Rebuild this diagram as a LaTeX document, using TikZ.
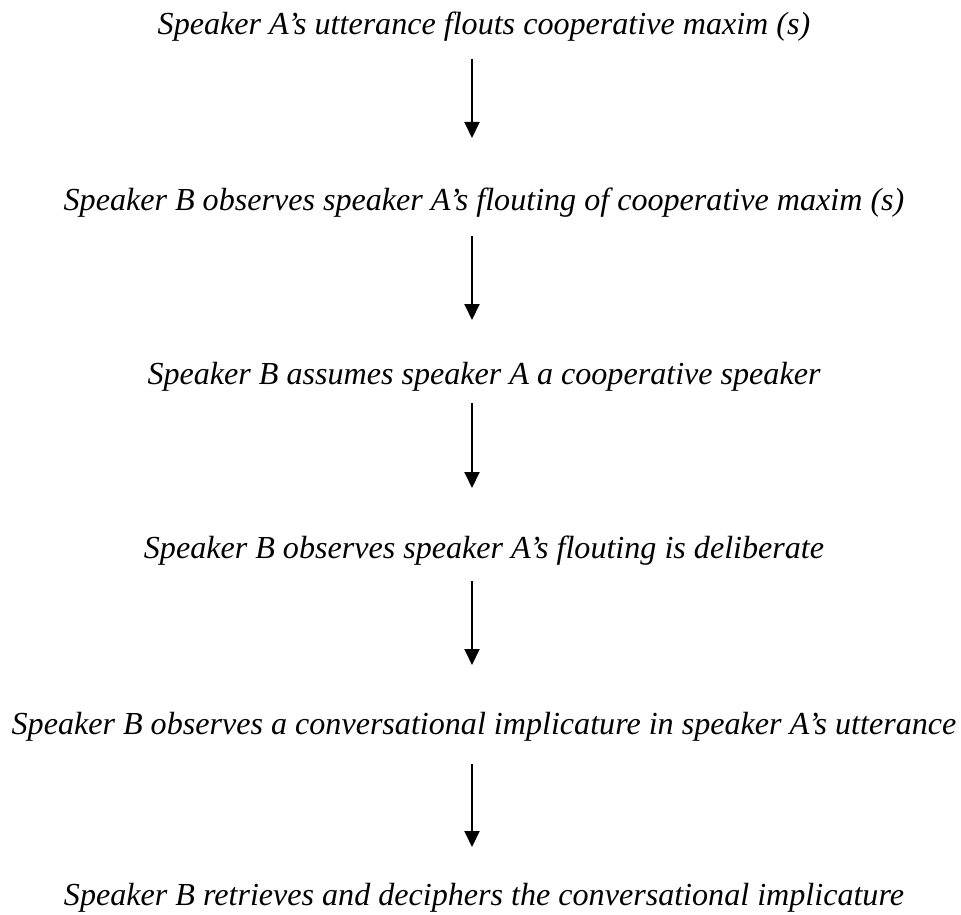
\documentclass[tikz,border=0pt]{standalone}
\usepackage{fontspec}
\setmainfont{Liberation Serif}
\usetikzlibrary{arrows.meta}
\begin{document}
\begin{tikzpicture}[x=1pt,y=-1pt,
  stage/.style={anchor=base,inner sep=0pt,font=\fontsize{32.1}{36}\selectfont\itshape},
  flow/.style={line width=2pt,-{Triangle[width=15pt,length=16pt]}}]
\useasboundingbox (0,0) rectangle (961,915);
\node[stage] (t1) at (484,35) {Speaker A’s utterance flouts cooperative maxim (s)};
\node[stage] (t2) at (484,210) {Speaker B observes speaker A’s flouting of cooperative maxim (s)};
\node[stage] (t3) at (484,384) {Speaker B assumes speaker A a cooperative speaker};
\node[stage] (t4) at (484,558) {Speaker B observes speaker A’s flouting is deliberate};
\node[stage] (t5) at (484,734) {Speaker B observes a conversational implicature in speaker A’s utterance};
\node[stage] (t6) at (484,905) {Speaker B retrieves and deciphers the conversational implicature};
\coordinate (a1s) at (472,59);  \coordinate (a1e) at (472,138);
\coordinate (a2s) at (472,236); \coordinate (a2e) at (472,320);
\coordinate (a3s) at (472,403); \coordinate (a3e) at (472,488);
\coordinate (a4s) at (472,581); \coordinate (a4e) at (472,665);
\coordinate (a5s) at (472,764); \coordinate (a5e) at (472,847);
\draw[flow] (a1s) -- (a1e);
\draw[flow] (a2s) -- (a2e);
\draw[flow] (a3s) -- (a3e);
\draw[flow] (a4s) -- (a4e);
\draw[flow] (a5s) -- (a5e);
\end{tikzpicture}
\end{document}
